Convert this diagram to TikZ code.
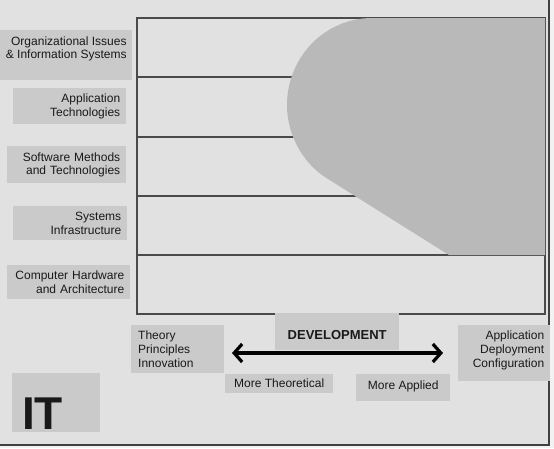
\documentclass[tikz,border=0pt]{standalone}
\usepackage{fontspec}
\setmainfont{Liberation Sans}
\usetikzlibrary{arrows.meta}
\definecolor{paper}{HTML}{E1E1E1}
\definecolor{boxgray}{HTML}{CACACA}
\definecolor{blobgray}{HTML}{B9B9B9}
\definecolor{linegray}{HTML}{4A4A4A}

\begin{document}
\begin{tikzpicture}[
  x=1pt, y=-1pt,
  every node/.style={font=\fontsize{12}{13.5}\selectfont, text=black!90},
  lbl/.style={fill=boxgray, anchor=north west, align=right, inner xsep=6pt, inner ysep=0pt},
  tag/.style={fill=boxgray, anchor=north west, align=center, inner sep=0pt},
  rule/.style={draw=linegray, line width=1.3pt},
  twoway/.style={line width=3.2pt, {Straight Barb[length=8pt,width=18pt]}-{Straight Barb[length=8pt,width=18pt]}}
  ]
\useasboundingbox (0,0) rectangle (554,448);
\fill[paper] (0,0) rectangle (554,448);

% page edge
\fill[black!5] (550,0) rectangle (554,448);
\fill[black!5] (0,446) rectangle (554,448);
\draw[draw=black!75, line width=2pt] (0,445) -- (549,445) -- (549,0);

% main grid of layers
\draw[rule] (137,18) rectangle (545,314);
\foreach \yy in {77,137,196,255}
  \draw[rule] (137,\yy) -- (545,\yy);

% development area
\fill[blobgray] (372,18) .. controls (325,18) and (287,57) .. (287,105)
  .. controls (287,135) and (303,164) .. (328,179) -- (449,255)
  -- (545,255) -- (545,18) -- cycle;

% layer labels
\node[lbl, inner xsep=5.5pt, minimum width=132pt, text height=28.5pt, text depth=21.5pt] (orgbox) at (0,30) {Organizational Issues\\\& Information Systems};
\node[lbl, text width=101pt, minimum height=36pt] (apptech) at (13,88) {Application\\Technologies};
\node[lbl, text width=107pt, minimum height=37pt] (swmeth) at (7,146) {Software Methods\\and Technologies};
\node[lbl, text width=102pt, minimum height=34pt] (sysinfra) at (13,206) {Systems\\Infrastructure};
\node[lbl, text width=111pt, minimum height=34pt] (hwarch) at (7,265) {Computer Hardware\\and Architecture};

% axis labels
\node[lbl, align=left, text width=79pt, inner xsep=7pt, text height=14pt, text depth=34pt, font=\fontsize{12}{14}\selectfont] (theory) at (131,325) {Theory\\Principles\\Innovation};
\node[lbl, text width=80pt, text height=14pt, text depth=42pt, font=\fontsize{12}{14}\selectfont] (applic) at (458,325) {Application\\Deployment\\Configuration};
\node[tag, minimum width=124pt, text height=26.5pt, text depth=10.5pt, font=\fontsize{13}{14}\selectfont\bfseries] (devel) at (275,313) {DEVELOPMENT};
\node[tag, minimum width=108pt, minimum height=19pt] (moretheo) at (225,374) {More Theoretical};
\node[tag, minimum width=94pt, text height=15.5pt, text depth=11.5pt] (moreappl) at (356,374) {More Applied};

\coordinate (lft) at (232,353);
\coordinate (rgt) at (443,353);
\draw[twoway] (lft) -- (rgt);

% corner tag
\node[fill=boxgray, anchor=south west, align=left, inner xsep=10pt, inner ysep=0pt, text width=68pt, text height=57pt, text depth=2pt, font=\fontsize{46}{46}\selectfont\bfseries] (itlabel) at (12,432) {IT};
\end{tikzpicture}
\end{document}
